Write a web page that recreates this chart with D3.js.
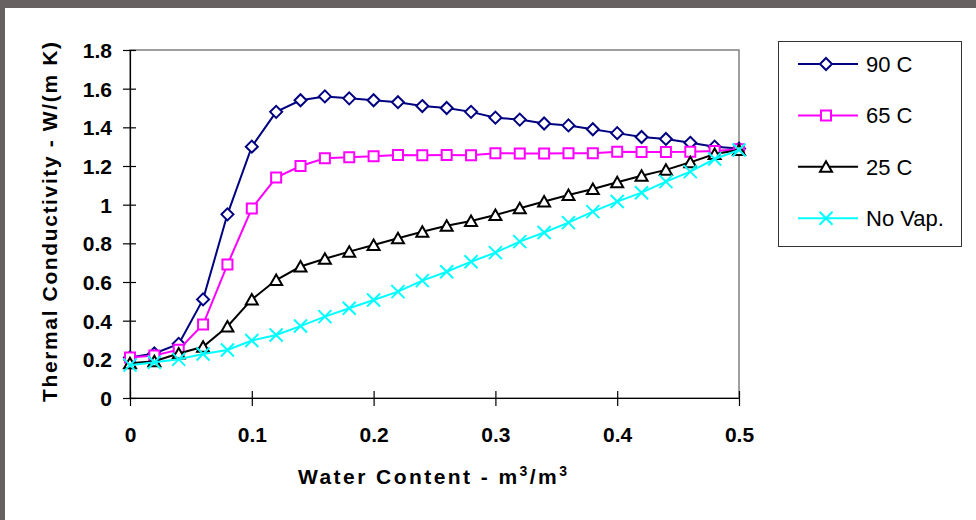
<!DOCTYPE html>
<html>
<head>
<meta charset="utf-8">
<script src="https://cdn.jsdelivr.net/npm/d3@7"></script>
<style>
  html, body { margin: 0; padding: 0; background: #ffffff; }
  svg { display: block; }
  text { font-family: "Liberation Sans", Arial, sans-serif; }
</style>
</head>
<body>
<svg id="chart" width="976" height="520"></svg>
<script>
// Water content (m3/m3) at which conductivity was evaluated
const waterContent = [0, 0.02, 0.04, 0.06, 0.08, 0.10, 0.12, 0.14, 0.16, 0.18, 0.20, 0.22, 0.24,
  0.26, 0.28, 0.30, 0.32, 0.34, 0.36, 0.38, 0.40, 0.42, 0.44, 0.46, 0.48, 0.50];

// Thermal conductivity, W/(m K)
const k90 = [0.21, 0.23, 0.28, 0.51, 0.95, 1.30, 1.48, 1.54, 1.56, 1.55, 1.54, 1.53, 1.51,
  1.50, 1.48, 1.45, 1.44, 1.42, 1.41, 1.39, 1.37, 1.35, 1.34, 1.32, 1.30, 1.29];
const k65 = [0.21, 0.22, 0.25, 0.38, 0.69, 0.98, 1.14, 1.20, 1.24, 1.245, 1.25, 1.257, 1.256,
  1.257, 1.256, 1.266, 1.265, 1.265, 1.266, 1.266, 1.274, 1.272, 1.273, 1.274, 1.278, 1.287];
const k25 = [0.18, 0.19, 0.23, 0.265, 0.37, 0.51, 0.61, 0.68, 0.72, 0.757, 0.791, 0.826, 0.86,
  0.891, 0.916, 0.947, 0.981, 1.016, 1.05, 1.081, 1.116, 1.15, 1.18, 1.219, 1.262, 1.283];
const kNoVap = [0.17, 0.185, 0.20, 0.228, 0.248, 0.297, 0.326, 0.372, 0.421, 0.464, 0.507, 0.55, 0.607,
  0.653, 0.705, 0.752, 0.809, 0.856, 0.907, 0.964, 1.016, 1.062, 1.119, 1.171, 1.236, 1.283];

const seriesNames = ["90 C", "65 C", "25 C", "No Vap."];
const seriesValues = [k90, k65, k25, kNoVap];
const seriesColors = ["#000080", "#ff00ff", "#000000", "#00ffff"];
const seriesMarkers = ["diamond", "square", "triangle", "cross"];

const xTicks = [0, 0.1, 0.2, 0.3, 0.4, 0.5];
const xTickLabels = ["0", "0.1", "0.2", "0.3", "0.4", "0.5"];
const yTicks = [0, 0.2, 0.4, 0.6, 0.8, 1.0, 1.2, 1.4, 1.6, 1.8];
const yTickLabels = ["0", "0.2", "0.4", "0.6", "0.8", "1", "1.2", "1.4", "1.6", "1.8"];

const svg = d3.select("#chart");
const W = 976, H = 520;

// outer frame
svg.append("rect").attr("width", W).attr("height", H).attr("fill", "#676261");
svg.append("rect").attr("x", 5).attr("y", 8).attr("width", W - 5).attr("height", H - 8).attr("fill", "#ffffff");

const plot = { left: 130, right: 739, top: 50, bottom: 398 };
const x = d3.scaleLinear().domain([0, 0.5]).range([plot.left, plot.right]);
const y = d3.scaleLinear().domain([0, 1.8]).range([plot.bottom, plot.top]);

// plot-area border
svg.append("rect")
  .attr("x", plot.left).attr("y", plot.top)
  .attr("width", plot.right - plot.left).attr("height", plot.bottom - plot.top)
  .attr("fill", "none").attr("stroke", "#808080").attr("stroke-width", 1.5);

// axes
const xAxis = svg.append("g")
  .attr("transform", `translate(0,${plot.bottom})`)
  .call(d3.axisBottom(x).tickValues(xTicks).tickFormat((d, i) => xTickLabels[i]).tickSizeOuter(0));
const yAxis = svg.append("g")
  .attr("transform", `translate(${plot.left},0)`)
  .call(d3.axisLeft(y).tickValues(yTicks).tickFormat((d, i) => yTickLabels[i]).tickSizeOuter(0));

[xAxis, yAxis].forEach(g => {
  g.select(".domain").attr("stroke", "#000").attr("stroke-width", 1.2);
  g.selectAll(".tick line").attr("stroke", "#000").attr("stroke-width", 1.2);
  g.selectAll(".tick text")
    .attr("fill", "#000")
    .attr("font-family", "'Liberation Sans', Arial, sans-serif")
    .attr("font-size", 21)
    .attr("font-weight", "bold");
});
xAxis.selectAll(".tick line").attr("y1", -7).attr("y2", 8);
xAxis.selectAll(".tick text").attr("y", 44).attr("dy", 0);
yAxis.selectAll(".tick line").attr("x1", -7).attr("x2", 6);
yAxis.selectAll(".tick text").attr("x", -18).attr("dy", "0.36em");

// axis titles
const xTitle = svg.append("text")
  .attr("x", (plot.left + plot.right) / 2 - 2)
  .attr("y", 484)
  .attr("text-anchor", "middle")
  .attr("font-size", 21)
  .attr("font-weight", "bold")
  .attr("textLength", 269)
  .attr("lengthAdjust", "spacing");
xTitle.append("tspan").text("Water Content - m");
xTitle.append("tspan").attr("dy", -8).attr("font-size", 14).text("3");
xTitle.append("tspan").attr("dy", 8).text("/m");
xTitle.append("tspan").attr("dy", -8).attr("font-size", 14).text("3");

svg.append("text")
  .attr("transform", "translate(57,222) rotate(-90)")
  .attr("text-anchor", "middle")
  .attr("font-size", 21)
  .attr("font-weight", "bold")
  .attr("textLength", 360)
  .attr("lengthAdjust", "spacing")
  .text("Thermal Conductivity - W/(m K)");

// marker shapes, centred on (0,0)
function markerPath(type) {
  switch (type) {
    case "diamond": return "M0,-6L6,0L0,6L-6,0Z";
    case "square": return "M-5,-5H5V5H-5Z";
    case "triangle": return "M0,-5.5L6,5L-6,5Z";
    case "cross": return "M-6.5,-6.5L6.5,6.5M6.5,-6.5L-6.5,6.5";
  }
}

const line = d3.line().x(d => x(d[0])).y(d => y(d[1]));

seriesValues.forEach((vals, si) => {
  const pts = waterContent.map((w, i) => [w, vals[i]]);
  const g = svg.append("g");
  g.append("path")
    .attr("d", line(pts))
    .attr("fill", "none")
    .attr("stroke", seriesColors[si])
    .attr("stroke-width", 2);
  g.selectAll("path.m").data(pts).join("path")
    .attr("class", "m")
    .attr("transform", d => `translate(${x(d[0])},${y(d[1])})`)
    .attr("d", markerPath(seriesMarkers[si]))
    .attr("fill", seriesMarkers[si] === "cross" ? "none" : "#ffffff")
    .attr("stroke", seriesColors[si])
    .attr("stroke-width", 2);
});

// legend
const legend = svg.append("g");
legend.append("rect")
  .attr("x", 778.5).attr("y", 41.5).attr("width", 183).attr("height", 205)
  .attr("fill", "#ffffff").attr("stroke", "#333333").attr("stroke-width", 1);
seriesNames.forEach((name, i) => {
  const cy = 64 + i * 51.4;
  legend.append("line")
    .attr("x1", 798).attr("x2", 858).attr("y1", cy).attr("y2", cy)
    .attr("stroke", seriesColors[i]).attr("stroke-width", 2);
  legend.append("path")
    .attr("transform", `translate(826,${cy})`)
    .attr("d", markerPath(seriesMarkers[i]))
    .attr("fill", seriesMarkers[i] === "cross" ? "none" : "#ffffff")
    .attr("stroke", seriesColors[i]).attr("stroke-width", 2);
  legend.append("text")
    .attr("x", 866).attr("y", cy + 8)
    .attr("font-size", 22)
    .attr("fill", "#000")
    .text(name);
});
</script>
</body>
</html>
